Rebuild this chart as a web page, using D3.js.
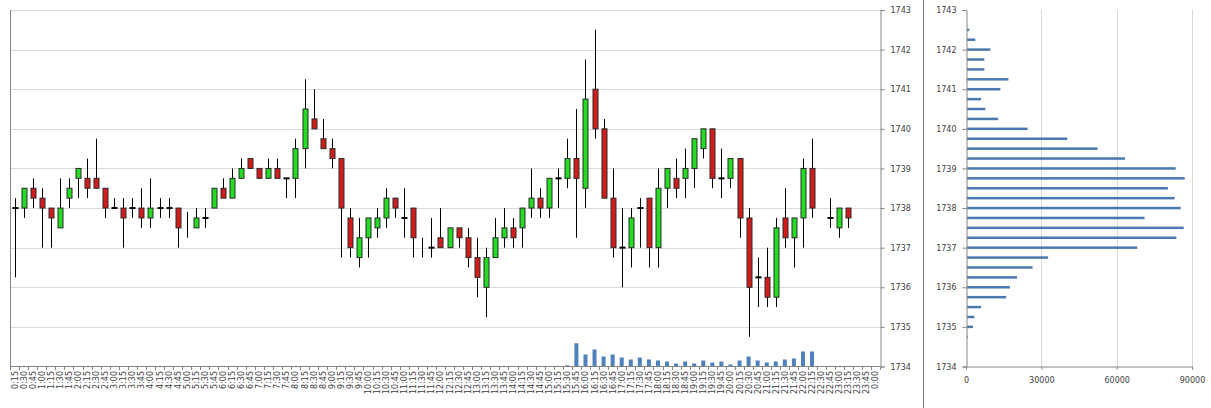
<!DOCTYPE html>
<html><head><meta charset="utf-8">
<script src="https://cdn.jsdelivr.net/npm/d3@7"></script>
<style>body{margin:0;background:#fff}svg{display:block}</style>
</head><body><svg id="c" width="1211" height="408"></svg>
<script>
const times=["0:15","0:30","0:45","1:00","1:15","1:30","1:45","2:00","2:15","2:30","2:45","3:00","3:15","3:30","3:45","4:00","4:15","4:30","4:45","5:00","5:15","5:30","5:45","6:00","6:15","6:30","6:45","7:00","7:15","7:30","7:45","8:00","8:15","8:30","8:45","9:00","9:15","9:30","9:45","10:00","10:15","10:30","10:45","11:00","11:15","11:30","11:45","12:00","12:15","12:30","12:45","13:00","13:15","13:30","13:45","14:00","14:15","14:30","14:45","15:00","15:15","15:30","15:45","16:00","16:15","16:30","16:45","17:00","17:15","17:30","17:45","18:00","18:15","18:30","18:45","19:00","19:15","19:30","19:45","20:00","20:15","20:30","20:45","21:00","21:15","21:30","21:45","22:00","22:15","22:30","22:45","23:00","23:15","23:30","23:45","0:00"];
const openP=[1738,1738,1738.5,1738.25,1738,1737.5,1738.25,1738.75,1738.75,1738.75,1738.5,1738,1738,1738,1738,1737.75,1738,1738,1738,null,1737.5,1737.75,1738,1738.5,1738.25,1738.75,1739.25,1739,1738.75,1739,1738.75,1738.75,1739.5,1740.25,1739.75,1739.5,1739.25,1737.75,1736.75,1737.25,1737.5,1737.75,1738.25,1737.75,1738,null,1737,1737.25,1737,1737.5,1737.25,1736.75,1736,1736.75,1737.25,1737.5,1737.5,1738,1738.25,1738,1738.75,1738.75,1739.25,1738.5,1741,1740,1738.25,1737,1737,1738,1738.25,1737,1738.5,1738.75,1738.75,1739,1739.5,1740,1738.75,1738.75,1739.25,1737.75,1736.25,1736.25,1735.75,1737.75,1737.25,1737.75,1739,null,1737.75,1737.5,1738,null,null,null];
const highP=[1738.25,1738.5,1738.75,1738.5,1738,1738.75,1738.75,1739,1739.25,1739.75,1738.5,1738.25,1738.25,1738.25,1738.5,1738.75,1738.25,1738.25,1738,1737.9,1738,1738,1738.5,1738.75,1739,1739.25,1739.25,1739,1739.25,1739.25,1738.75,1739.75,1741.25,1741,1740.25,1739.75,1739.25,1738,1737.75,1737.75,1738,1738.5,1738.25,1738.5,1738,1737.25,1737.75,1738,1737.5,1737.5,1737.5,1737.25,1737,1737.75,1738,1737.75,1738,1739,1738.5,1738.75,1739,1739.75,1740.5,1741.75,1742.5,1740.25,1739,1738,1738,1738.25,1738.25,1739,1739,1739.25,1739.5,1739.75,1740,1740,1739.5,1739.25,1739.25,1738,1736.75,1737,1737.75,1738.5,1737.75,1739.25,1739.75,null,1738.25,1738,1738,null,null,null];
const lowP=[1736.25,1737.75,1738,1737,1737,1737.5,1738,1738.25,1738.25,1738.5,1737.75,1738,1737,1737.75,1737.5,1737.5,1737.75,1737.75,1737,1737.25,1737.5,1737.5,1738,1738.25,1738.25,1738.75,1739,1738.75,1738.75,1738.75,1738.25,1738.25,1739,1740,1739.5,1739,1736.75,1736.75,1736.5,1736.75,1737.25,1737.5,1737.75,1737.25,1736.75,1736.75,1736.75,1737,1737,1737,1736.5,1735.75,1735.25,1736.75,1737,1737,1737,1737.75,1737.75,1737.75,1738,1738.5,1737.25,1738,1739.75,1738.25,1736.75,1736,1736.5,1737,1736.5,1736.5,1738,1738.25,1738.25,1738.5,1739.25,1738.5,1738.25,1738.5,1737.25,1734.75,1735.5,1735.5,1735.5,1737,1736.5,1737,1737.75,null,1737.5,1737.25,1737.5,null,null,null];
const closeP=[1738,1738.5,1738.25,1738,1737.75,1738,1738.5,1739,1738.5,1738.5,1738,1738,1737.75,1738,1737.75,1738,1738,1738,1737.5,null,1737.75,1737.75,1738.5,1738.25,1738.75,1739,1739,1738.75,1739,1738.75,1738.75,1739.5,1740.5,1740,1739.5,1739.25,1738,1737,1737.25,1737.75,1737.75,1738.25,1738,1737.75,1737.25,null,1737,1737,1737.5,1737.25,1736.75,1736.25,1736.75,1737.25,1737.5,1737.25,1738,1738.25,1738,1738.75,1738.75,1739.25,1738.75,1740.75,1740,1738.25,1737,1737,1737.75,1738,1737,1738.5,1739,1738.5,1739,1739.75,1740,1738.75,1738.75,1739.25,1737.75,1736,1736.25,1735.75,1737.5,1737.25,1737.75,1739,1738,null,1737.75,1738,1737.75,null,null,null];
const volume=[0,0,0,0,0,0,0,0,0,0,0,0,0,0,0,0,0,0,0,0,0,0,0,0,0,0,0,0,0,0,0,0,0,0,0,0,3000,3000,0,0,0,0,0,0,0,0,0,0,0,0,0,0,0,0,0,0,0,3000,0,0,3000,6000,116000,60000,85000,50000,60000,45000,35000,45000,35000,30000,25000,15000,25000,15000,30000,20000,25000,10000,30000,50000,30000,20000,25000,35000,40000,75000,75000,0,0,0,0,0,0,0];
const priceTicks=[1734,1735,1736,1737,1738,1739,1740,1741,1742,1743];
const profilePrices=[1742.5,1742.25,1742,1741.75,1741.5,1741.25,1741,1740.75,1740.5,1740.25,1740,1739.75,1739.5,1739.25,1739,1738.75,1738.5,1738.25,1738,1737.75,1737.5,1737.25,1737,1736.75,1736.5,1736.25,1736,1735.75,1735.5,1735.25,1735,1734.75];
const profileVolumes=[900,3300,9300,6900,6900,16500,13300,5600,7300,12400,24100,39900,52000,62900,83100,86700,80000,82700,85100,70700,86300,83400,67800,32300,26100,19900,17100,15600,5600,2900,2400,300];
const profileTicks=[0,30000,60000,90000];

const svg=d3.select("#c");
const FONT="DejaVu Sans";
const txtCol="#404040", axCol="#868686", gridCol="#d9d9d9";
const x=d3.scaleBand().domain(times).range([10,880]);
const y=d3.scaleLinear().domain([1734,1743]).range([366.5,10]);
const yv=d3.scaleLinear().domain([0,1780000]).range([366.5,10]);

// grid
svg.append("g").selectAll("line").data(priceTicks.filter(d=>d>1734)).join("line")
 .attr("x1",10).attr("x2",880).attr("y1",d=>Math.round(y(d))+0.5).attr("y2",d=>Math.round(y(d))+0.5)
 .attr("stroke",gridCol);
// left border
svg.append("line").attr("x1",10.5).attr("x2",10.5).attr("y1",10).attr("y2",367).attr("stroke",axCol);

// volume bars
svg.append("g").selectAll("rect").data(times.map((t,i)=>({t,v:volume[i]})).filter(d=>d.v>0)).join("rect")
 .attr("x",d=>x(d.t)+x.bandwidth()/2-2).attr("width",4)
 .attr("y",d=>yv(d.v)).attr("height",d=>yv(0)-yv(d.v)).attr("fill","#4f81bd");

// candles
const candles=times.map((t,i)=>({t,o:openP[i],h:highP[i],l:lowP[i],c:closeP[i]})).filter(d=>d.h!=null);
const cg=svg.append("g");
candles.forEach(d=>{
  const cx=Math.round(x(d.t)+x.bandwidth()/2)+0.5;
  cg.append("line").attr("x1",cx).attr("x2",cx).attr("y1",y(d.h)).attr("y2",y(d.l)).attr("stroke","#000").attr("stroke-width",1);
  if(d.o==null) return;
  if(d.o===d.c){
    cg.append("line").attr("x1",cx-3).attr("x2",cx+3).attr("y1",y(d.o)).attr("y2",y(d.o)).attr("stroke","#000").attr("stroke-width",2);
  } else {
    const top=y(Math.max(d.o,d.c)), bot=y(Math.min(d.o,d.c));
    cg.append("rect").attr("x",cx-2.5).attr("width",5).attr("y",top).attr("height",bot-top)
      .attr("fill",d.c>d.o?"#22dd22":"#d21c1c").attr("stroke","#2a2a2a").attr("stroke-width",1);
  }
});

// right axis of main
const ya=svg.append("g").attr("transform","translate(880.5,0)")
 .call(d3.axisRight(y).tickValues(priceTicks).tickSize(4).tickPadding(6).tickFormat(d3.format("d")));
ya.select(".domain").attr("stroke",axCol);
ya.selectAll(".tick line").attr("stroke",axCol);
ya.selectAll("text").attr("font-family",FONT).attr("font-size",8).attr("fill",txtCol);

// x axis
svg.append("line").attr("x1",10).attr("x2",880).attr("y1",366.5).attr("y2",366.5).attr("stroke",axCol);
svg.append("g").selectAll("line").data(times).join("line")
 .attr("x1",d=>Math.round(x(d))+0.5).attr("x2",d=>Math.round(x(d))+0.5).attr("y1",366.5).attr("y2",370).attr("stroke",axCol);
svg.append("line").attr("x1",880.5).attr("x2",880.5).attr("y1",366.5).attr("y2",370).attr("stroke",axCol);
svg.append("g").selectAll("text").data(times).join("text")
 .attr("transform",d=>`translate(${x(d)+x.bandwidth()/2+3},371) rotate(-90)`)
 .attr("text-anchor","end").attr("font-family",FONT).attr("font-size",8).attr("fill",txtCol).text(d=>d);

// separator
svg.append("line").attr("x1",923.5).attr("x2",923.5).attr("y1",0).attr("y2",408).attr("stroke","#7f7f7f");

// profile chart
const px=d3.scaleLinear().domain([0,90000]).range([966,1192]);
svg.append("g").selectAll("line").data(profileTicks.filter(d=>d>0)).join("line")
 .attr("x1",d=>Math.round(px(d))+0.5).attr("x2",d=>Math.round(px(d))+0.5).attr("y1",10).attr("y2",366.5).attr("stroke",gridCol);
svg.append("g").selectAll("rect").data(profilePrices.map((p,i)=>({p,v:profileVolumes[i]}))).join("rect")
 .attr("x",px(0)+1).attr("width",d=>px(d.v)-px(0)).attr("y",d=>y(d.p)-1.25).attr("height",2.5)
 .attr("fill","#4a78b0");
const pya=svg.append("g").attr("transform","translate(966.5,0)")
 .call(d3.axisLeft(y).tickValues(priceTicks).tickSize(4).tickPadding(6).tickFormat(d3.format("d")));
pya.select(".domain").attr("stroke",axCol);
pya.selectAll(".tick line").attr("stroke",axCol);
pya.selectAll("text").attr("font-family",FONT).attr("font-size",8).attr("fill",txtCol);
const pxa=svg.append("g").attr("transform","translate(0,366.5)")
 .call(d3.axisBottom(px).tickValues(profileTicks).tickSize(3).tickPadding(8).tickFormat(d3.format("d")));
pxa.select(".domain").attr("stroke",axCol);
pxa.selectAll(".tick line").attr("stroke",axCol);
pxa.selectAll("text").attr("font-family",FONT).attr("font-size",8).attr("fill",txtCol);
</script></body></html>
